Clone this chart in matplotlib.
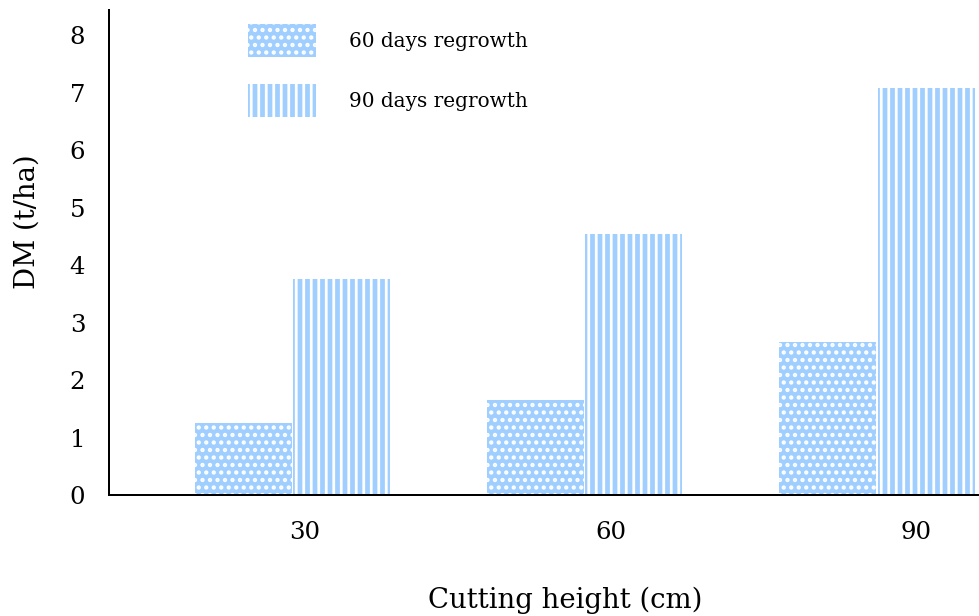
import numpy as np
import matplotlib
matplotlib.use("Agg")
import matplotlib.pyplot as plt

heights = ["30", "60", "90"]
regrowth_60 = [1.25, 1.65, 2.66]
regrowth_90 = [3.76, 4.54, 7.08]
series_labels = ["60 days regrowth", "90 days regrowth"]

plt.rcParams["font.family"] = ["DejaVu Serif"]
plt.rcParams["hatch.linewidth"] = 2.2

blue = "#a0cfff"

fig = plt.figure(figsize=(979 / 90, 616 / 90), dpi=90)
ax = fig.add_axes([109 / 979, 121 / 616, 870 / 979, 485 / 616])

x = np.arange(len(heights))
width = 0.332

ax.bar(x - 0.168, regrowth_60, width, color=blue, edgecolor="white",
       linewidth=0, hatch="..", label=series_labels[0])
ax.bar(x + 0.168, regrowth_90, width, color=blue, edgecolor="white",
       linewidth=0, hatch="||", label=series_labels[1])

ax.set_xlim(-0.628, 2.349)
ax.set_ylim(0, 8.435)
ax.set_yticks(range(0, 9))

# category labels sit on a slightly wider grid than the bar groups
ax.set_xticks(x * 1.045 + 0.043, heights)
ax.tick_params(axis="both", length=0, labelsize=19.5)
ax.tick_params(axis="y", pad=19)
ax.tick_params(axis="x", pad=21)

for side in ("top", "right"):
    ax.spines[side].set_visible(False)
for side in ("left", "bottom"):
    ax.spines[side].set_linewidth(1.6)

ax.set_xlabel("Cutting height (cm)", fontsize=22, va="center")
ax.xaxis.set_label_coords((565 - 109) / 870, -0.2165)
ax.set_ylabel("DM (t/ha)", fontsize=22, va="center")
ax.yaxis.set_label_coords(-0.094, 0.563)

# legend geometry in points (1 px = 0.8 pt at 90 dpi)
fs = 16
box_h = 33 * 0.8
hh = (box_h / fs - 0.245) / 0.65
ax.legend(loc="upper left", bbox_to_anchor=(248 / 979, 1 - 24 / 616),
          bbox_transform=fig.transFigure, frameon=False, fontsize=fs,
          borderpad=0, borderaxespad=0,
          handlelength=68 * 0.8 / fs, handleheight=hh,
          handletextpad=33 * 0.8 / fs,
          labelspacing=(70 * 0.8 - fs * hh) / fs)

fig.savefig("out.png", dpi=90)
